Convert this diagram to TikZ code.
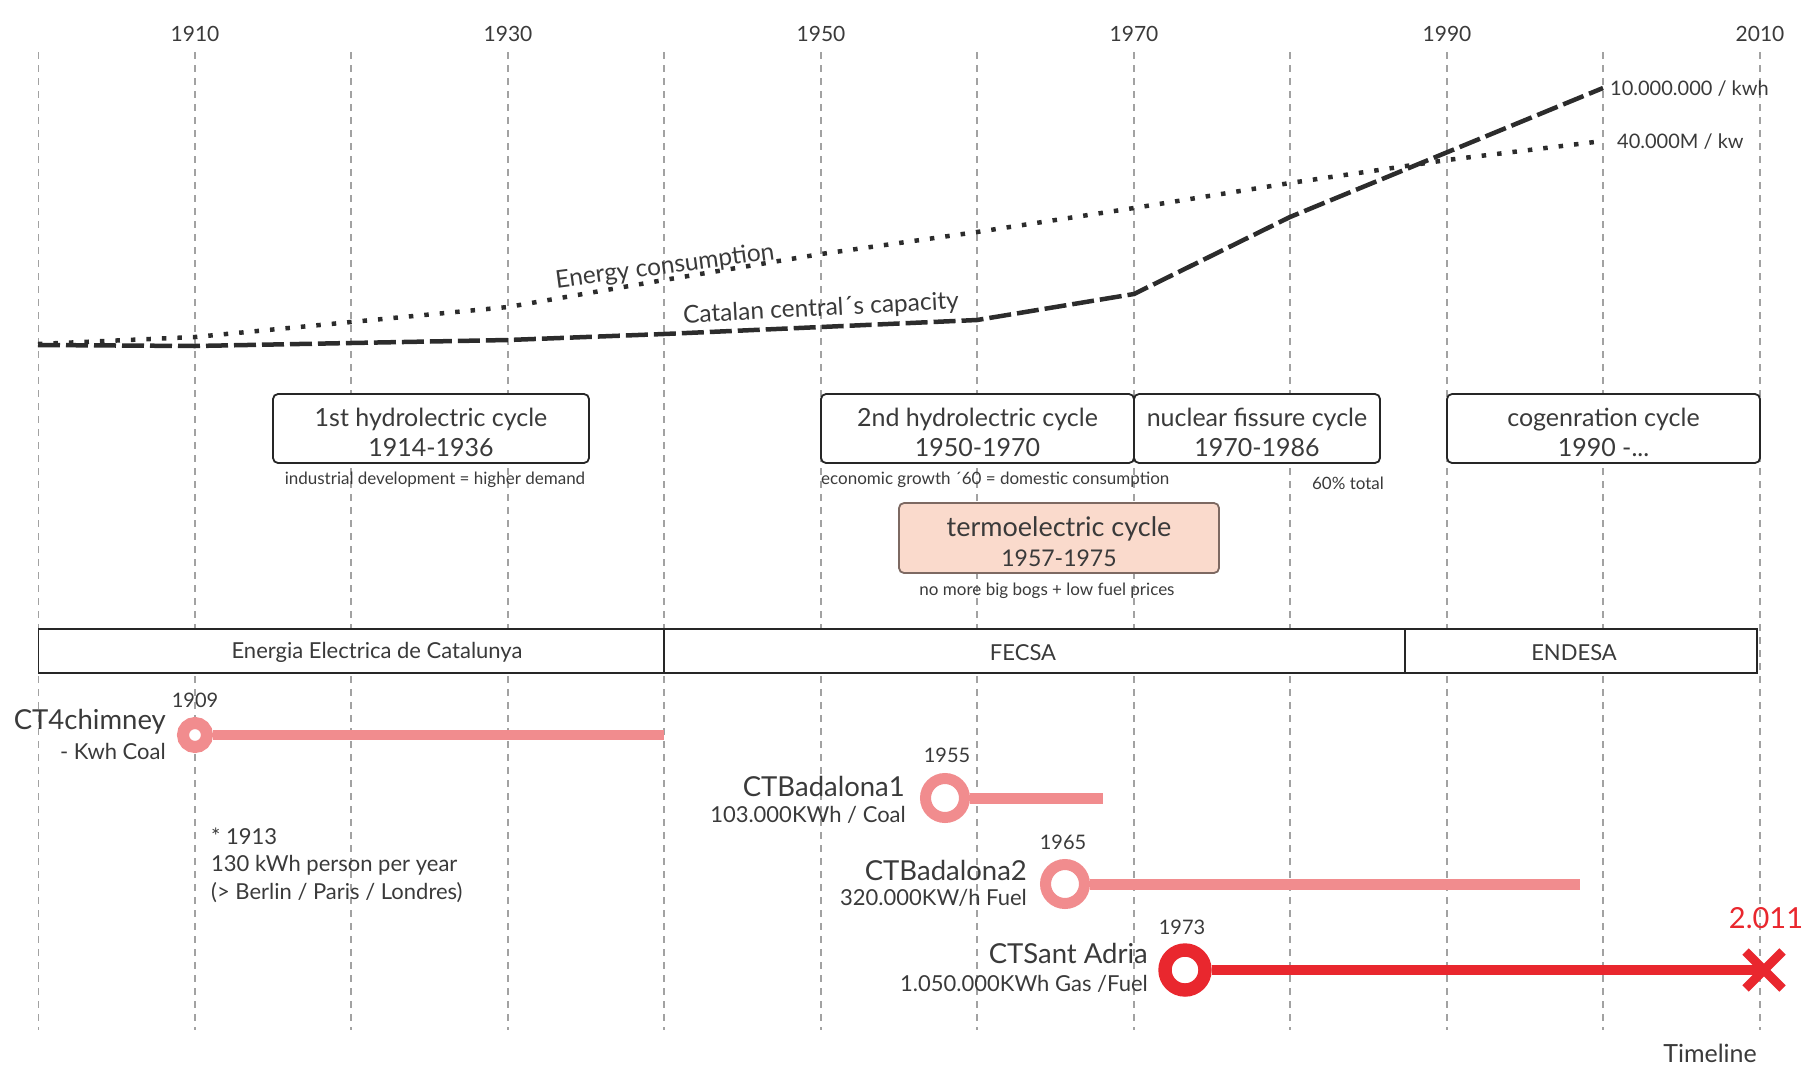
\documentclass[tikz,border=0pt]{standalone}
\usepackage{fontspec}
\setmainfont{Lato}
\usepackage{tikz}
\usepackage{xcolor}
\usetikzlibrary{positioning,shapes,calc}

\definecolor{ink}{HTML}{3A3A3A}
\definecolor{gridgray}{HTML}{A2A2A2}
\definecolor{curve}{HTML}{2C2C2C}
\definecolor{salmon}{RGB}{241,140,142}
\definecolor{redline}{RGB}{233,39,46}
\definecolor{peach}{RGB}{250,218,204}
\definecolor{peachedge}{RGB}{125,105,98}

\begin{document}
\begin{tikzpicture}[x=1pt,y=-1pt,
    every node/.style={text=ink,inner sep=0pt},
    gridline/.style={gridgray,line width=1.3pt,dash pattern=on 7pt off 6pt},
    yearlab/.style={font=\fontsize{21}{24}\selectfont},
    endlab/.style={anchor=west,font=\fontsize{20}{24}\selectfont},
    capline/.style={draw=curve,line width=4.5pt,dash pattern=on 22pt off 6pt},
    useline/.style={draw=curve,line width=4.5pt,dash pattern=on 4.5pt off 11pt},
    curvelab/.style={font=\fontsize{24.5}{28}\selectfont},
    cyclebox/.style={draw=black!85,line width=1.8pt,rounded corners=5pt,fill=white,minimum height=69pt,align=center,
        font=\fontsize{25}{30}\selectfont,execute at begin node={\rule{0pt}{57pt}}},
    subnote/.style={font=\fontsize{17}{20}\selectfont},
    cell/.style={draw=black!85,line width=1.8pt,fill=white,minimum height=44pt},
    celllab/.style={font=\fontsize{22}{26}\selectfont},
    plantring/.style={circle,draw=#1,fill=white},
    runbar/.style={draw=#1},
    plantname/.style={anchor=east,font=\fontsize{27.5}{30}\selectfont},
    plantfuel/.style={anchor=east,font=\fontsize{22}{26}\selectfont},
    startyear/.style={font=\fontsize{20}{24}\selectfont}]
    \useasboundingbox (0,0) rectangle (1803,1069);

      % decade grid
      \draw[gridline] (38.5,52) -- (38.5,1030);
      \draw[gridline] (195,52) -- (195,1030);
      \draw[gridline] (351,52) -- (351,1030);
      \draw[gridline] (508,52) -- (508,1030);
      \draw[gridline] (664,52) -- (664,1030);
      \draw[gridline] (821,52) -- (821,1030);
      \draw[gridline] (977,52) -- (977,1030);
      \draw[gridline] (1134,52) -- (1134,1030);
      \draw[gridline] (1290,52) -- (1290,1030);
      \draw[gridline] (1447,52) -- (1447,1030);
      \draw[gridline] (1603,52) -- (1603,1030);
      \draw[gridline] (1760,52) -- (1760,1030);

      \node[yearlab] (y1910) at (195,34) {1910};
      \node[yearlab] (y1930) at (508,34) {1930};
      \node[yearlab] (y1950) at (821,34) {1950};
      \node[yearlab] (y1970) at (1134,34) {1970};
      \node[yearlab] (y1990) at (1447,34) {1990};
      \node[yearlab] (y2010) at (1760,34) {2010};

      % consumption and capacity
      \draw[useline] (38,344) -- (195,337) -- (351,322) -- (508,307) -- (664,280) -- (821,254)
            -- (977,232) -- (1134,208) -- (1290,183) -- (1447,160) -- (1603,141);
      \draw[capline] (38,345) -- (195,346) -- (351,343) -- (508,340) -- (664,334) -- (821,327)
            -- (977,320) -- (1134,294) -- (1290,217) -- (1603,88);
      \node[curvelab,rotate=7.5] (uselab) at (665,267) {Energy consumption};
      \node[curvelab,rotate=3] (caplab) at (821,309) {Catalan central´s capacity};
      \node[endlab] (capend) at (1610,89) {10.000.000 / kwh};
      \node[endlab] (useend) at (1617,142) {40.000M / kw};

      % cycles
      \node[cyclebox,minimum width=316pt] (hyd1) at (431,428.5) {1st hydrolectric cycle\\1914-1936};
      \node[cyclebox,minimum width=313pt] (hyd2) at (977.5,428.5) {2nd hydrolectric cycle\\1950-1970};
      \node[cyclebox,minimum width=246pt] (nuc) at (1257,428.5) {nuclear fissure cycle\\1970-1986};
      \node[cyclebox,minimum width=313pt] (cogen) at (1603.5,428.5) {cogenration cycle\\1990 -...};
      \node[cyclebox,minimum width=320pt,minimum height=70pt,fill=peach,draw=peachedge,font=\fontsize{23}{30}\selectfont] (termo) at (1059,538)
            {{\fontsize{27}{30}\selectfont termoelectric cycle}\\1957-1975};

      \node[subnote] (hyd1note) at (435,480) {industrial development = higher demand};
      \node[subnote,anchor=west] (hyd2note) at (821,480) {economic growth ´60 = domestic consumption};
      \node[subnote] (nucnote) at (1348,483) {60\% total};
      \node[subnote] (termonote) at (1047,591) {no more big bogs + low fuel prices};

      % companies
      \node[cell,minimum width=625.5pt] (eec) at (351.25,651) {};
      \node[cell,minimum width=741pt] (fecsa) at (1034.5,651) {};
      \node[cell,minimum width=352pt] (endesa) at (1581,651) {};
      \node[celllab] (eeclab) at (377,652) {Energia Electrica de Catalunya};
      \node[celllab] (fecsalab) at (1023,653) {FECSA};
      \node[celllab] (endesalab) at (1574,653) {ENDESA};

      % power plants
      \node[plantring=salmon,minimum size=24pt,line width=12pt] (ct4) at (195,735) {};
      \coordinate (ct4end) at (664,735);
      \draw[runbar=salmon,line width=10pt] (ct4) -- (ct4end);
      \node[startyear] (ct4year) at (195,700) {1909};
      \node[plantname] (ct4name) at (166,722) {CT4chimney};
      \node[plantfuel] (ct4fuel) at (166,751) {- Kwh Coal};

      \node[plantring=salmon,minimum size=39pt,line width=11pt] (bad1) at (945,798) {};
      \coordinate (bad1end) at (1103,798);
      \draw[runbar=salmon,line width=11pt] (bad1) -- (bad1end);
      \node[startyear] (bad1year) at (947,755) {1955};
      \node[plantname] (bad1name) at (905,786) {CTBadalona1};
      \node[plantfuel] (bad1fuel) at (906,815) {103.000KWh / Coal};

      \node[plantring=salmon,minimum size=39pt,line width=11pt] (bad2) at (1065,884) {};
      \coordinate (bad2end) at (1580,884);
      \draw[runbar=salmon,line width=11pt] (bad2) -- (bad2end);
      \node[startyear] (bad2year) at (1063,842) {1965};
      \node[plantname] (bad2name) at (1027,870) {CTBadalona2};
      \node[plantfuel] (bad2fuel) at (1027,898) {320.000KW/h Fuel};

      \node[plantring=redline,minimum size=40pt,line width=13.4pt] (adria) at (1185,970) {};
      \node[cross out,draw=redline,line width=9pt,minimum size=28pt] (adriaend) at (1764,970) {};
      \draw[runbar=redline,line width=9.5pt] (adria) -- (adriaend.center);
      \node[startyear] (adriayear) at (1182,927) {1973};
      \node[plantname] (adrianame) at (1148,953) {CTSant Adria};
      \node[plantfuel] (adriafuel) at (1148,984) {1.050.000KWh Gas /Fuel};
      \node[font=\fontsize{29}{33}\selectfont,text=redline] (closing) at (1766,918) {2.011};

      \node[anchor=west,align=left,font=\fontsize{22}{27.5}\selectfont] (fact1913) at (211,865)
            {* 1913\\130 kWh person per year\\(> Berlin / Paris / Londres)};

      \node[anchor=east,font=\fontsize{25}{29}\selectfont] (axisname) at (1757,1053) {Timeline};
\end{tikzpicture}
\end{document}
